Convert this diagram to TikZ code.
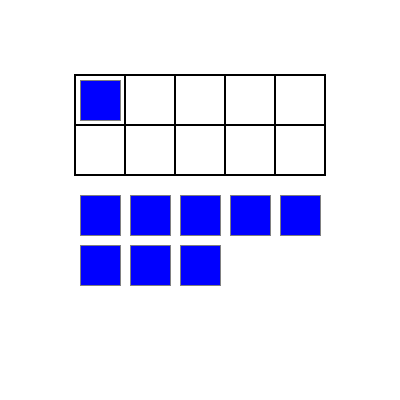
\documentclass[tikz,border=0pt]{standalone}
\begin{document}
\begin{tikzpicture}[x=0.25mm,y=-0.25mm,
  cell/.style={draw=black,line width=0.5mm,minimum size=12.5mm,inner sep=0pt,outer sep=0pt},
  chip/.style={draw=gray,fill=blue,line width=0.25mm,minimum size=10mm,inner sep=0pt,outer sep=0pt}]
\useasboundingbox (0,0) rectangle (400,400);
\fill[white] (0,0) rectangle (400,400);
\foreach \i in {0,...,4}{
  \foreach \j in {0,1}{
    \node[cell] (c\i\j) at ({100+50*\i},{100+50*\j}) {};
  }
}
\node[chip] (t0) at (100,100) {};
\foreach \i in {0,...,4}{
  \node[chip] (a\i) at ({100+50*\i},215) {};
}
\foreach \i in {0,...,2}{
  \node[chip] (b\i) at ({100+50*\i},265) {};
}
\end{tikzpicture}
\end{document}
